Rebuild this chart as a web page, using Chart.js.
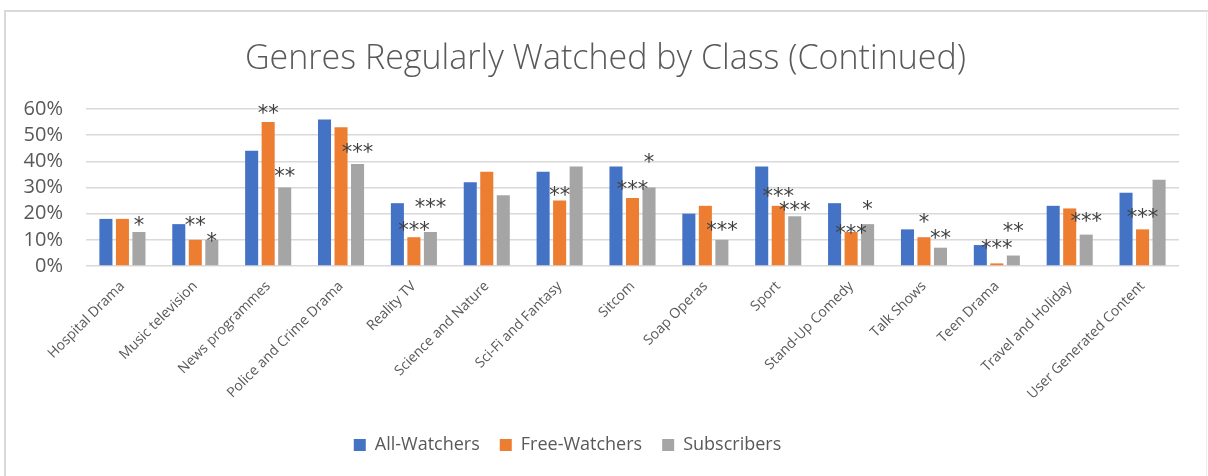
<!DOCTYPE html>
<html>
<head>
<meta charset="utf-8">
<script src="https://cdn.jsdelivr.net/npm/chart.js@4.4.1/dist/chart.umd.min.js"></script>
<style>
html,body{margin:0;padding:0;background:#fff;}
#wrap{position:relative;width:1208px;height:476px;}
</style>
</head>
<body>
<div id="wrap"><canvas id="c"></canvas></div>
<script>
const categories = ["Hospital Drama","Music television","News programmes","Police and Crime Drama","Reality TV","Science and Nature","Sci-Fi and Fantasy","Sitcom","Soap Operas","Sport","Stand-Up Comedy","Talk Shows","Teen Drama","Travel and Holiday","User Generated Content"];
const allWatchers  = [18,16,44,56,24,32,36,38,20,38,24,14,8,23,28];
const freeWatchers = [18,10,55,53,11,36,25,26,23,23,13,11,1,22,14];
const subscribers  = [13,10,30,39,13,27,38,30,10,19,16,7,4,12,33];
const freeSig = ["","**","**","","***","","**","***","","***","***","*","***","","***"];
const subSig  = ["*","*","**","***","***","","","*","***","***","*","**","**","***",""];
const yTicks = [0,10,20,30,40,50,60];

// label placement (pixels above bar top to the asterisk centre)
const freeSigLift = [0,20,14,0,12,0,11,14,0,15,4,20,20,0,17];
const subSigLift  = [12,4,16,17,30,0,0,30,15,11,20,15,30,19,0];

const TEXT = '#595959';

const frame = {
  id:'frame',
  afterDraw(chart){
    const c = chart.ctx;
    c.save();
    c.strokeStyle = '#d9d9d9';
    c.lineWidth = 2;
    c.beginPath();
    c.moveTo(5, 476); c.lineTo(5, 11); c.lineTo(1208, 11);
    c.stroke();
    c.lineWidth = 1;
    c.strokeStyle = '#eeeeee';
    c.beginPath(); c.moveTo(1206.5, 11); c.lineTo(1206.5, 476); c.stroke();
    c.restore();
  }
};

// shift the title and legend blocks horizontally (as in the reference)
const blockShift = {
  id:'blockShift',
  afterLayout(chart){
    const lg = chart.legend;
    if (lg) { lg.left -= 22; lg.right -= 22; }
    const tt = chart.titleBlock;
    if (tt) { tt.left += 16; tt.right += 16; }
  }
};

const sigLabels = {
  id:'sigLabels',
  afterDatasetsDraw(chart, args, opts){
    const c = chart.ctx;
    const f = opts.size;
    c.save();
    c.font = f + 'px "DejaVu Sans"';
    c.fillStyle = '#404040';
    c.textAlign = 'center';
    c.textBaseline = 'alphabetic';
    opts.sets.forEach(s => {
      const meta = chart.getDatasetMeta(s.index);
      s.labels.forEach((t, i) => {
        if (!t) return;
        const el = meta.data[i];
        const yc = el.y - s.lift[i];
        c.fillText(t, el.x, yc + 0.57 * f);
      });
    });
    c.restore();
  }
};

new Chart(document.getElementById('c'), {
  type: 'bar',
  data: {
    labels: categories,
    datasets: [
      {label:'All-Watchers', data: allWatchers, backgroundColor:'#4472C4'},
      {label:'Free-Watchers', data: freeWatchers, backgroundColor:'#ED7D31'},
      {label:'Subscribers', data: subscribers, backgroundColor:'#A5A5A5'}
    ]
  },
  options: {
    responsive: true,
    maintainAspectRatio: false,
    animation: false,
    datasets: { bar: { categoryPercentage: 0.68, barPercentage: 0.79 } },
    layout: { padding: { left: 0, right: 29, top: 0, bottom: 12 } },
    plugins: {
      title: {
        display: true,
        text: 'Genres Regularly Watched by Class (Continued)',
        color: TEXT,
        font: { family: '"Open Sans"', size: 34, weight: 300, lineHeight: 1.2 },
        padding: { top: 38.6, bottom: 29.6 }
      },
      legend: {
        position: 'bottom',
        labels: {
          color: TEXT,
          boxWidth: 12, boxHeight: 12,
          padding: 20,
          font: { family: '"Open Sans"', size: 18 }
        }
      },
      tooltip: { enabled: false },
      sigLabels: {
        size: 21,
        sets: [
          { index: 1, labels: freeSig, lift: freeSigLift },
          { index: 2, labels: subSig, lift: subSigLift }
        ]
      }
    },
    scales: {
      x: {
        grid: { display: false },
        border: { display: false },
        ticks: {
          color: TEXT,
          minRotation: 45, maxRotation: 45,
          autoSkip: false,
          padding: 4,
          font: { family: '"Open Sans"', size: 14 }
        },
        afterFit(scale){ scale.height = 150; }
      },
      y: {
        min: 0, max: 60,
        grid: { color: '#d9d9d9', lineWidth: 1.5, drawTicks: false },
        border: { display: false },
        afterBuildTicks(scale){ scale.ticks = yTicks.map(v => ({value: v})); },
        ticks: {
          color: TEXT,
          padding: 23,
          autoSkip: false,
          font: { family: '"Open Sans"', size: 20 },
          callback: v => v + '%'
        },
        afterFit(scale){ scale.width = 86; }
      }
    }
  },
  plugins: [sigLabels, blockShift, frame]
});
</script>
</body>
</html>
